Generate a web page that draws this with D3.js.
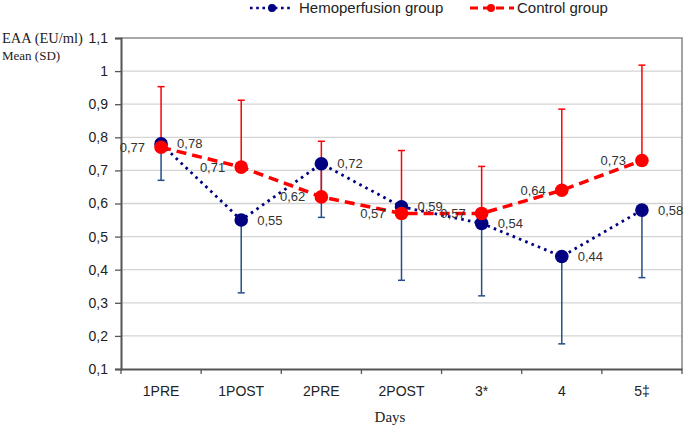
<!DOCTYPE html>
<html><head><meta charset="utf-8">
<script src="https://cdn.jsdelivr.net/npm/d3@7"></script>
<style>body{margin:0;background:#fff}svg{display:block}</style>
</head><body>
<svg id="c" width="685" height="427"></svg>
<script>
const categories = ["1PRE","1POST","2PRE","2POST","3*","4","5\u2021"];
const hemoMean  = [0.78,0.55,0.72,0.59,0.54,0.44,0.58];
const hemoLower = [0.67,0.33,0.558,0.368,0.321,0.176,0.376];
const ctrlMean  = [0.77,0.71,0.62,0.57,0.57,0.64,0.73];
const ctrlUpper = [0.953,0.912,0.788,0.76,0.712,0.885,1.018];
const yTicks = [0.1,0.2,0.3,0.4,0.5,0.6,0.7,0.8,0.9,1.0,1.1];
const seriesNames = ["Hemoperfusion group","Control group"];

const svg = d3.select("#c");
const fmt = v => d3.format(".2f")(v).replace(".", ",");
const fmtTick = v => { let s = d3.format(".1f")(v); if (s === "1.0") s = "1"; return s.replace(".", ","); };

const x = d3.scaleBand().domain(categories).range([121, 682]);
const y = d3.scaleLinear().domain([0.1, 1.1]).range([369, 38]);
const cx = c => x(c) + x.bandwidth() / 2;

// gridlines
svg.append("g").selectAll("line").data(yTicks.filter(t => t > 0.15 && t < 1.05)).join("line")
  .attr("x1", 121).attr("x2", 682).attr("y1", d => y(d)).attr("y2", d => y(d))
  .attr("stroke", "#d4d4d4").attr("stroke-width", 1.3);

// frame top/right
svg.append("path").attr("d", `M121,${y(1.1)}H682V${y(0.1)}`)
  .attr("fill", "none").attr("stroke", "#8c8c8c").attr("stroke-width", 1.6);

// y axis
const yAxis = svg.append("g").attr("transform", "translate(121,0)")
  .call(d3.axisLeft(y).tickValues(yTicks).tickSize(6).tickFormat(fmtTick));
yAxis.select(".domain").attr("stroke", "#555").attr("stroke-width", 2);
yAxis.selectAll(".tick line").attr("stroke", "#555").attr("stroke-width", 1.3);
yAxis.selectAll(".tick text").attr("x", -13).attr("font-family", "Liberation Sans, Arial, sans-serif")
  .attr("font-size", 14).attr("fill", "#222");

// x axis
const xAxis = svg.append("g").attr("transform", `translate(0,${y(0.1)})`)
  .call(d3.axisBottom(x).tickSize(0).tickPadding(0));
xAxis.select(".domain").attr("stroke", "#555").attr("stroke-width", 2);
xAxis.selectAll(".tick text").attr("y", 17).attr("dy", "0.71em")
  .attr("font-family", "Liberation Sans, Arial, sans-serif").attr("font-size", 14).attr("fill", "#222");
const bounds = categories.map(c => x(c)).concat([x.range()[1]]);
svg.append("g").selectAll("line").data(bounds).join("line")
  .attr("x1", d => d).attr("x2", d => d).attr("y1", y(0.1)).attr("y2", y(0.1) + 5)
  .attr("stroke", "#555").attr("stroke-width", 1.3);

// axis titles
svg.append("text").attr("x", 2).attr("y", 43).text("EAA (EU/ml)")
  .attr("font-family", "Liberation Serif, Times New Roman, serif").attr("font-size", 14.5).attr("fill", "#222");
svg.append("text").attr("x", 2).attr("y", 60).text("Mean (SD)")
  .attr("font-family", "Liberation Serif, Times New Roman, serif").attr("font-size", 13).attr("fill", "#222");
svg.append("text").attr("x", 390).attr("y", 422).attr("text-anchor", "middle").text("Days")
  .attr("font-family", "Liberation Serif, Times New Roman, serif").attr("font-size", 15).attr("fill", "#222");

const hemoColor = "#000080", hemoErr = "#244f8a", ctrlColor = "#ff0000";
const capW = 3.5;

// error bars
function errBars(means, ends, color) {
  const g = svg.append("g");
  categories.forEach((c, i) => {
    g.append("line").attr("x1", cx(c)).attr("x2", cx(c)).attr("y1", y(means[i])).attr("y2", y(ends[i]))
      .attr("stroke", color).attr("stroke-width", 1.5);
    g.append("line").attr("x1", cx(c) - capW).attr("x2", cx(c) + capW).attr("y1", y(ends[i])).attr("y2", y(ends[i]))
      .attr("stroke", color).attr("stroke-width", 1.5);
  });
}
errBars(hemoMean, hemoLower, hemoErr);
errBars(ctrlMean, ctrlUpper, ctrlColor);

const line = d3.line().x((d, i) => cx(categories[i])).y(d => y(d));

// hemo series
svg.append("path").datum(hemoMean).attr("d", line).attr("fill", "none")
  .attr("stroke", hemoColor).attr("stroke-width", 2.8).attr("stroke-dasharray", "2.6,4.2");
svg.append("g").selectAll("circle").data(hemoMean).join("circle")
  .attr("cx", (d, i) => cx(categories[i])).attr("cy", d => y(d)).attr("r", 6.8).attr("fill", hemoColor);

// control series
svg.append("path").datum(ctrlMean).attr("d", line).attr("fill", "none")
  .attr("stroke", ctrlColor).attr("stroke-width", 3.5).attr("stroke-dasharray", "10,6");
svg.append("g").selectAll("circle").data(ctrlMean).join("circle")
  .attr("cx", (d, i) => cx(categories[i])).attr("cy", d => y(d)).attr("r", 6.8).attr("fill", ctrlColor);

// value labels
const lblFont = "Liberation Sans, Arial, sans-serif";
svg.append("g").selectAll("text").data(hemoMean).join("text")
  .attr("x", (d, i) => cx(categories[i]) + 16).attr("y", d => y(d)).attr("dy", "0.35em")
  .attr("font-family", lblFont).attr("font-size", 13).attr("fill", "#333").text(fmt);
svg.append("g").selectAll("text").data(ctrlMean).join("text")
  .attr("x", (d, i) => cx(categories[i]) - 16).attr("y", d => y(d)).attr("dy", "0.35em")
  .attr("text-anchor", "end")
  .attr("font-family", lblFont).attr("font-size", 13).attr("fill", "#333").text(fmt);

// legend
const lg = svg.append("g");
lg.append("line").attr("x1", 250).attr("x2", 291).attr("y1", 8).attr("y2", 8)
  .attr("stroke", hemoColor).attr("stroke-width", 2.6).attr("stroke-dasharray", "2.6,3.6");
lg.append("circle").attr("cx", 272).attr("cy", 8).attr("r", 4).attr("fill", hemoColor);
lg.append("text").attr("x", 299).attr("y", 13).text(seriesNames[0])
  .attr("font-family", lblFont).attr("font-size", 15).attr("fill", "#222");
lg.append("line").attr("x1", 470).attr("x2", 514).attr("y1", 8).attr("y2", 8)
  .attr("stroke", ctrlColor).attr("stroke-width", 3).attr("stroke-dasharray", "8,5");
lg.append("circle").attr("cx", 491).attr("cy", 8).attr("r", 4).attr("fill", ctrlColor);
lg.append("text").attr("x", 517).attr("y", 13).text(seriesNames[1])
  .attr("font-family", lblFont).attr("font-size", 15).attr("fill", "#222");
</script>
</body></html>
